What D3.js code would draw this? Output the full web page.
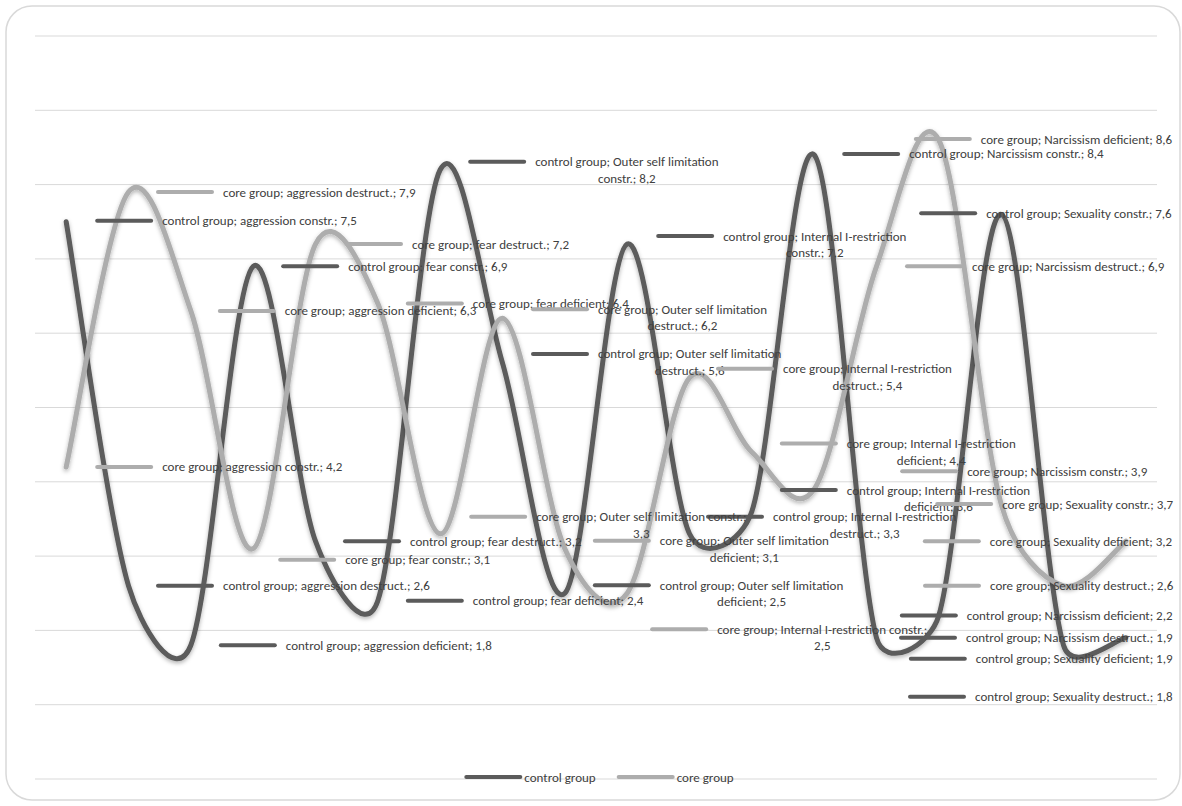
<!DOCTYPE html>
<html>
<head>
<meta charset="utf-8">
<script src="https://cdn.jsdelivr.net/npm/d3@7"></script>
<style>
  body { margin: 0; background: #fff; }
  text { font-family: Carlito, Calibri, Lato, sans-serif; font-size: 13px; fill: #404040; }
</style>
</head>
<body>
<div id="chart"></div>
<script>
const categories = [
  "aggression constr.", "aggression destruct.", "aggression deficient",
  "fear constr.", "fear destruct.", "fear deficient",
  "Outer self limitation constr.", "Outer self limitation destruct.", "Outer self limitation deficient",
  "Internal I-restriction constr.", "Internal I-restriction destruct.", "Internal I-restriction deficient",
  "Narcissism constr.", "Narcissism destruct.", "Narcissism deficient",
  "Sexuality constr.", "Sexuality destruct.", "Sexuality deficient"
];
const controlValues = [7.5, 2.6, 1.8, 6.9, 3.2, 2.4, 8.2, 5.6, 2.5, 7.2, 3.3, 3.6, 8.4, 1.9, 2.2, 7.6, 1.8, 1.9];
const coreValues    = [4.2, 7.9, 6.3, 3.1, 7.2, 6.4, 3.3, 6.2, 3.1, 2.5, 5.4, 4.4, 3.9, 6.9, 8.6, 3.7, 2.6, 3.2];
const seriesNames = ["control group", "core group"];
const yTicks = d3.range(0, 11);

// data label nudges: [dx, dy, words on first line (0 = one line)]
const controlLabels = [[31,-1,0],[29.5,0,0],[30,0,0],[30,0,0],[29.5,0,0],[30,0,0],
  [30,-8,5],[30.5,-9,5],[30,-8,5],[31,-8,4],[18.5,-17,4],[30,-21.5,4],
  [30,-1,0],[24.5,0,0],[-37,0,0],[-80,-1,0],[-153.5,51.5,0],[-215,21,0]];
const coreLabels = [[31,0,0],[29.5,0,0],[29,0,0],[27,11,0],[31.5,0,0],[30,0,0],
  [31,-17,6],[30.5,-9,5],[30,-8,5],[25,36,5],[28.5,-9,4],[30,-8.5,4],
  [88,-18,0],[30.5,0,0],[-23,-1,0],[-64,0,0],[-138.5,0,0],[-201,0,0]];

const W = 1182, H = 806;
const colors = ["#5b5b5b", "#adadad"];

const svg = d3.select("#chart").append("svg")
    .attr("width", W)
    .attr("height", H);

const defs = svg.append("defs");
defs.append("filter").attr("id", "shadow")
    .attr("x", "-10%").attr("y", "-10%").attr("width", "120%").attr("height", "120%")
  .append("feDropShadow")
    .attr("dx", 0).attr("dy", 2).attr("stdDeviation", 2)
    .attr("flood-color", "#000").attr("flood-opacity", 0.3);

// chart border
svg.append("rect")
    .attr("x", 6).attr("y", 6)
    .attr("width", 1174).attr("height", 794)
    .attr("rx", 26)
    .attr("fill", "#fff")
    .attr("stroke", "#d9d9d9")
    .attr("stroke-width", 1.5);

const x = d3.scalePoint().domain(categories).range([35, 1157]).padding(0.5);
const y = d3.scaleLinear().domain([0, 10]).range([779, 36]);

// gridlines
svg.append("g")
  .selectAll("line")
  .data(yTicks)
  .join("line")
    .attr("x1", 35).attr("x2", 1157)
    .attr("y1", d => y(d)).attr("y2", d => y(d))
    .attr("stroke", "#d9d9d9")
    .attr("stroke-width", 1);

const series = [
  { name: seriesNames[0], values: controlValues, labels: controlLabels, color: colors[0] },
  { name: seriesNames[1], values: coreValues, labels: coreLabels, color: colors[1] }
];

// spreadsheet-style smoothed line: bezier segments, control arms capped at half the segment
function smoothPath(values) {
  const pts = values.map((v, i) => [x(categories[i]), y(v)]);
  const dist = (a, b) => Math.hypot(b[0] - a[0], b[1] - a[1]);
  const p = d3.path();
  p.moveTo(pts[0][0], pts[0][1]);
  for (let i = 0; i < pts.length - 1; i++) {
    const p0 = pts[i - 1] || pts[i], p1 = pts[i], p2 = pts[i + 1], p3 = pts[i + 2] || pts[i + 1];
    const d12 = dist(p1, p2), d02 = dist(p0, p2), d13 = dist(p1, p3);
    const f0 = (d02 / 6 < d12 / 2 || d02 === 0) ? 1 / 6 : d12 / 2 / d02;
    const f1 = (d13 / 6 < d12 / 2 || d13 === 0) ? 1 / 6 : d12 / 2 / d13;
    p.bezierCurveTo(
      p1[0] + f0 * (p2[0] - p0[0]), p1[1] + f0 * (p2[1] - p0[1]),
      p2[0] - f1 * (p3[0] - p1[0]), p2[1] - f1 * (p3[1] - p1[1]),
      p2[0], p2[1]);
  }
  return p.toString();
}

svg.append("g")
  .selectAll("path")
  .data(series)
  .join("path")
    .attr("d", d => smoothPath(d.values))
    .attr("fill", "none")
    .attr("stroke", d => d.color)
    .attr("stroke-width", 5)
    .attr("stroke-linecap", "round")
    .attr("filter", "url(#shadow)");

// data labels with legend keys
const labelG = svg.append("g");
series.forEach(s => {
  s.values.forEach((v, i) => {
    const [dx, dy, wrap] = s.labels[i];
    const kx = x(categories[i]) + dx;
    const ky = y(v) + dy;
    labelG.append("line")
        .attr("x1", kx).attr("x2", kx + 54)
        .attr("y1", ky).attr("y2", ky)
        .attr("stroke", s.color)
        .attr("stroke-width", 4)
        .attr("stroke-linecap", "round");
    const full = `${s.name}; ${categories[i]}; ${String(v).replace(".", ",")}`;
    const words = full.split(" ");
    const lines = wrap ? [words.slice(0, wrap).join(" "), words.slice(wrap).join(" ")] : [full];
    const tx = kx + 65;
    const texts = lines.map((t, j) => labelG.append("text")
        .attr("y", ky + j * 16.5)
        .attr("dy", "0.35em")
        .text(t));
    const maxW = d3.max(texts, t => t.node().getComputedTextLength());
    texts.forEach(t => t.attr("x", tx + maxW / 2).attr("text-anchor", "middle"));
  });
});

// legend
const legend = svg.append("g");
let lx = 0;
series.forEach(s => {
  const g = legend.append("g").attr("transform", `translate(${lx},0)`);
  g.append("line")
      .attr("x1", 0).attr("x2", 54)
      .attr("y1", 0).attr("y2", 0)
      .attr("stroke", s.color)
      .attr("stroke-width", 4)
      .attr("stroke-linecap", "round");
  const t = g.append("text")
      .attr("x", 58).attr("dy", "0.35em")
      .text(s.name);
  lx += 58 + t.node().getComputedTextLength() + 23;
});
const legendW = lx - 23;
legend.attr("transform", `translate(${600 - legendW / 2},777)`);
</script>
</body>
</html>
